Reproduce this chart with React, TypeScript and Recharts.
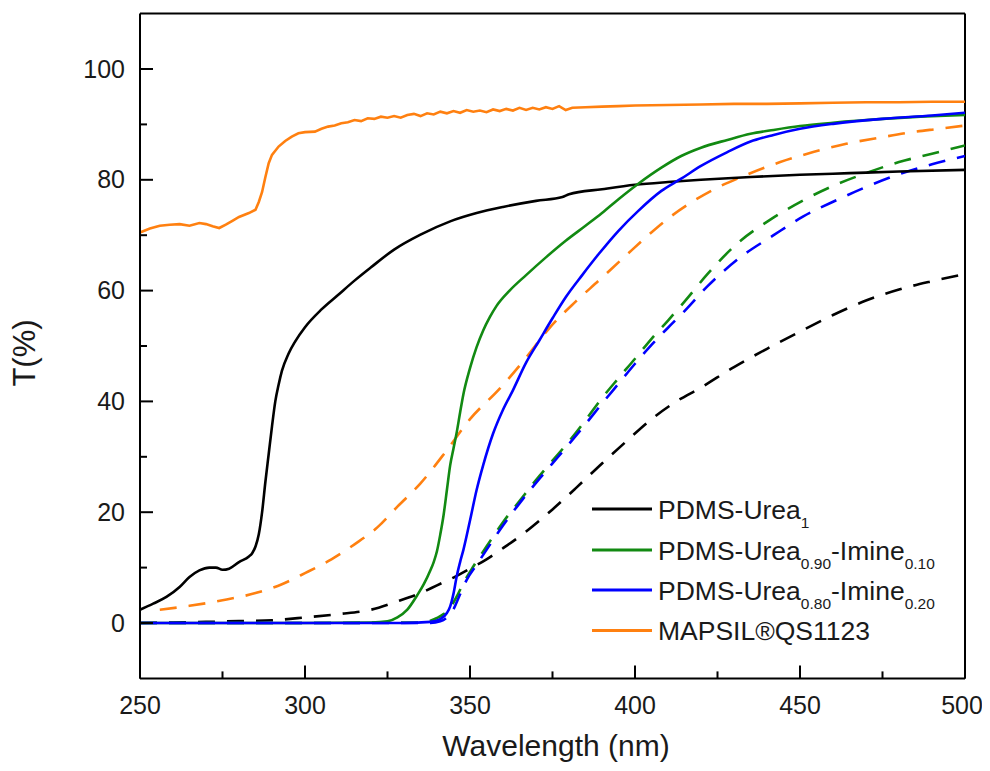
import React from 'react';
import { LineChart, Line, XAxis, YAxis, ReferenceLine } from 'recharts';

const FONT = '"Liberation Sans", Arial, Helvetica, sans-serif';
const TXT = '#1a1a1a';

// ---- axes ----
const xTicks = [250, 275, 300, 325, 350, 375, 400, 425, 450, 475, 500];
const xMajor = [250, 300, 350, 400, 450, 500];
const yTicks = [0, 10, 20, 30, 40, 50, 60, 70, 80, 90, 100];
const yMajor = [0, 20, 40, 60, 80, 100];
const xDomain = [250, 500];
const yDomain = [-10, 110];

// ---- PDMS-Urea1 (solid) ----
const wlUrea1 = [250, 254, 258, 262, 265, 268, 271, 273, 275, 277, 280, 283, 284, 285, 286, 287, 288, 289, 290, 291, 292, 293, 295, 297, 300, 305, 310, 315, 320, 327, 335, 344, 352, 360, 370, 378, 380, 390, 400, 410, 420, 435, 450, 465, 480, 500];
const tUrea1 = [2.4, 3.5, 4.7, 6.5, 8.3, 9.5, 10.0, 10.0, 9.6, 9.8, 11.0, 12.0, 12.6, 13.8, 16.0, 20.0, 25.5, 30.5, 35.5, 40.0, 43.0, 45.5, 48.6, 50.8, 53.4, 56.6, 59.2, 61.8, 64.2, 67.4, 70.1, 72.5, 74.0, 75.1, 76.2, 76.9, 77.4, 78.3, 79.1, 79.6, 80.0, 80.5, 80.9, 81.2, 81.5, 81.8];

// ---- PDMS-Urea1 (dashed) ----
const wlUrea1D = [250, 260, 270, 280, 290, 300, 310, 320, 328, 335, 340, 345, 350, 355, 360, 367, 375, 382, 390, 397, 405, 412, 420, 430, 440, 450, 460, 470, 480, 490, 500];
const tUrea1D = [0, 0.1, 0.2, 0.35, 0.5, 1.0, 1.6, 2.4, 3.9, 5.4, 6.8, 8.2, 9.8, 11.5, 13.5, 16.5, 20.5, 24.3, 28.8, 32.6, 36.8, 39.8, 42.5, 46.2, 49.5, 52.6, 55.6, 58.2, 60.2, 61.7, 63.0];

// ---- PDMS-Urea0.90-Imine0.10 (solid) ----
const wlU90 = [250, 300, 320, 325, 328, 331, 334, 336, 338, 339, 340, 341, 342, 343, 344, 345, 346, 347, 348, 350, 352, 354, 356, 358, 362, 367, 373, 379, 385, 390, 395, 401, 408, 414, 420, 428, 435, 442, 450, 460, 475, 490, 500];
const tU90 = [0, 0, 0.1, 0.3, 1.0, 2.4, 5.0, 7.0, 9.5, 11.0, 13.0, 16.0, 19.5, 24.0, 28.5, 31.5, 34.5, 38.0, 41.3, 46.0, 49.8, 52.8, 55.2, 57.2, 60.0, 62.8, 66.0, 69.0, 71.7, 74.0, 76.5, 79.3, 82.2, 84.3, 85.8, 87.2, 88.3, 89.0, 89.7, 90.3, 91.0, 91.5, 91.7];

// ---- PDMS-Urea0.90-Imine0.10 (dashed) ----
const wlU90D = [250, 300, 335, 338, 340, 342, 344, 346, 348, 351, 355, 360, 365, 370, 375, 380, 385, 390, 395, 400, 405, 410, 415, 422, 431, 441, 451, 460, 470, 480, 490, 500];
const tU90D = [0, 0, 0.1, 0.4, 0.9, 1.6, 2.8, 4.8, 7.2, 10.2, 13.8, 18.2, 22.0, 25.8, 29.3, 32.8, 36.6, 40.6, 44.2, 47.7, 51.3, 54.6, 58.0, 63.0, 68.5, 72.8, 76.3, 78.9, 81.2, 83.2, 84.7, 86.2];

// ---- PDMS-Urea0.80-Imine0.20 (solid) ----
const wlU80 = [250, 300, 330, 338, 341, 343, 344, 345, 346, 347, 348, 350, 352, 354, 357, 360, 363, 367, 371, 375, 379, 384, 389, 395, 401, 408, 414, 420, 428, 435, 442, 450, 460, 475, 490, 500];
const tU80 = [0, 0, 0, 0.2, 0.7, 1.8, 3.0, 5.3, 8.5, 11.0, 13.2, 18.5, 24.0, 28.5, 34.2, 38.5, 42.0, 47.0, 51.0, 55.0, 58.8, 62.8, 66.6, 70.8, 74.4, 78.0, 80.2, 82.5, 85.0, 86.9, 88.1, 89.2, 90.1, 91.0, 91.6, 92.1];

// ---- PDMS-Urea0.80-Imine0.20 (dashed) ----
const wlU80D = [250, 300, 338, 341, 343, 345, 347, 349, 352, 355, 360, 365, 370, 375, 380, 385, 390, 395, 400, 405, 410, 415, 422, 431, 442, 451, 461, 470, 480, 490, 500];
const tU80D = [0, 0, 0, 0.3, 1.0, 2.5, 5.2, 7.8, 10.5, 13.2, 17.6, 21.6, 25.3, 28.8, 32.3, 35.9, 39.6, 43.2, 46.8, 50.2, 53.3, 56.3, 60.8, 65.6, 70.0, 73.4, 76.3, 78.7, 81.0, 82.8, 84.3];

// ---- MAPSIL QS1123 (solid) ----
const wlMap = [250, 253, 256, 259, 262, 265, 268, 270, 272, 274, 276, 278, 280, 283, 285, 286, 287, 288, 289, 290, 292, 294, 296, 298, 300, 303, 305, 307, 309, 311, 313, 315, 317, 319, 321, 323, 325, 327, 329, 331, 333, 335, 337, 339, 341, 343, 345, 347, 349, 351, 353, 355, 357, 359, 361, 363, 365, 367, 369, 371, 373, 375, 377, 379, 381, 385, 390, 395, 400, 410, 420, 430, 440, 450, 460, 470, 480, 490, 500];
const tMap = [70.5, 71.2, 71.7, 71.9, 72.0, 71.7, 72.2, 72.0, 71.6, 71.3, 71.9, 72.6, 73.3, 74.0, 74.6, 76.0, 77.8, 80.5, 83.0, 84.5, 86.0, 87.0, 87.8, 88.4, 88.6, 88.7, 89.2, 89.6, 89.8, 90.2, 90.4, 90.8, 90.6, 91.1, 91.0, 91.4, 91.2, 91.5, 91.2, 91.7, 91.9, 91.5, 92.0, 91.8, 92.3, 92.0, 92.4, 92.1, 92.6, 92.3, 92.5, 92.2, 92.7, 92.4, 92.8, 92.5, 93.0, 92.6, 93.0, 92.7, 93.1, 92.8, 93.3, 92.6, 93.0, 93.1, 93.2, 93.3, 93.4, 93.5, 93.6, 93.7, 93.7, 93.8, 93.9, 94.0, 94.0, 94.1, 94.1];

// ---- MAPSIL QS1123 (dashed) ----
const wlMapD = [256, 265, 275, 285, 293, 300, 308, 315, 322, 328, 335, 343, 350, 359, 367, 374, 382, 389, 397, 404, 410, 417, 425, 433, 444, 454, 464, 474, 484, 492, 500];
const tMapD = [2.4, 3.1, 4.1, 5.4, 7.0, 9.0, 11.5, 14.2, 17.3, 21.0, 25.2, 31.2, 36.8, 42.3, 47.9, 53.2, 58.0, 61.8, 66.2, 70.0, 73.0, 75.9, 78.6, 80.7, 83.2, 85.0, 86.5, 87.6, 88.6, 89.2, 89.8];

const pts = (xs: number[], ys: number[]) => xs.map((x, i) => ({ x, y: ys[i] }));

const BLACK = '#000000';
const GREEN = '#128a12';
const BLUE = '#0000ff';
const ORANGE = '#ff8010';
const DASH = '17 12';

const series = [
  { id: 'u1d', data: pts(wlUrea1D, tUrea1D), color: BLACK, dash: DASH },
  { id: 'mapd', data: pts(wlMapD, tMapD), color: ORANGE, dash: DASH },
  { id: 'u90d', data: pts(wlU90D, tU90D), color: GREEN, dash: DASH },
  { id: 'u80d', data: pts(wlU80D, tU80D), color: BLUE, dash: DASH },
  { id: 'u1', data: pts(wlUrea1, tUrea1), color: BLACK, dash: undefined },
  { id: 'u90', data: pts(wlU90, tU90), color: GREEN, dash: undefined },
  { id: 'u80', data: pts(wlU80, tU80), color: BLUE, dash: undefined },
  { id: 'map', data: pts(wlMap, tMap), color: ORANGE, dash: undefined, linear: true },
];

const legendItems = [
  { color: BLACK, parts: [['PDMS-Urea', false], ['1', true]] },
  { color: GREEN, parts: [['PDMS-Urea', false], ['0.90', true], ['-Imine', false], ['0.10', true]] },
  { color: BLUE, parts: [['PDMS-Urea', false], ['0.80', true], ['-Imine', false], ['0.20', true]] },
  { color: ORANGE, parts: [['MAPSIL®QS1123', false]] },
];

// whole-page coordinates (the inner box is shifted onto the page origin)
const W = 990;
const H = 771;
const PLOT_LEFT = 140;
const PLOT_TOP = 13.6;
const PLOT_RIGHT = 965;
const PLOT_BOTTOM = 678.4;

const XTick = (props: any) => {
  const { x, y, payload } = props;
  const v = payload.value;
  const major = xMajor.includes(v);
  const dx = v === xDomain[1] ? -3 : 0;
  return (
    <g>
      <line x1={x} x2={x} y1={y} y2={y - (major ? 13 : 7)} stroke="#000" strokeWidth={2} />
      {major && (
        <text x={x + dx} y={y + 35.6} textAnchor="middle" fontSize={25} fontFamily={FONT} fill={TXT}>
          {v}
        </text>
      )}
    </g>
  );
};

const YTick = (props: any) => {
  const { x, y, payload } = props;
  const v = payload.value;
  const major = yMajor.includes(v);
  return (
    <g>
      <line x1={x} x2={x + (major ? 13 : 7)} y1={y} y2={y} stroke="#000" strokeWidth={2} />
      {major && (
        <text x={x - 15} y={y + 8.5} textAnchor="end" fontSize={25} fontFamily={FONT} fill={TXT}>
          {v}
        </text>
      )}
    </g>
  );
};

export default function App() {
  const legX0 = 592;
  const legX1 = 652;
  const legTextX = 658;
  const legRowY = [509, 550, 590, 630.5];
  return (
    <div style={{ position: 'relative', width: 974, height: H, marginTop: -8, marginBottom: -8 }}>
      <div style={{ position: 'absolute', left: -8, top: 0, width: W, height: H }}>
        <LineChart
          width={W}
          height={H}
          margin={{ top: PLOT_TOP, right: W - PLOT_RIGHT, left: 0, bottom: 0 }}
        >
          <XAxis
            dataKey="x"
            type="number"
            domain={xDomain}
            ticks={xTicks}
            interval={0}
            allowDataOverflow
            height={H - PLOT_BOTTOM}
            tickSize={0}
            tickMargin={0}
            tickLine={false}
            axisLine={{ stroke: '#000', strokeWidth: 2 }}
            tick={<XTick />}
          />
          <YAxis
            dataKey="y"
            type="number"
            domain={yDomain}
            ticks={yTicks}
            interval={0}
            allowDataOverflow
            width={PLOT_LEFT}
            tickSize={0}
            tickMargin={0}
            tickLine={false}
            axisLine={{ stroke: '#000', strokeWidth: 2 }}
            tick={<YTick />}
          />
          <ReferenceLine y={110} stroke="#000" strokeWidth={2} />
          <ReferenceLine x={500} stroke="#000" strokeWidth={2} />
          {series.map((s) => (
            <Line
              key={s.id}
              data={s.data}
              dataKey="y"
              type={s.linear ? 'linear' : 'monotone'}
              stroke={s.color}
              strokeWidth={2.6}
              strokeDasharray={s.dash}
              dot={false}
              activeDot={false}
              isAnimationActive={false}
            />
          ))}
        </LineChart>
        <svg
          width={W}
          height={H}
          style={{ position: 'absolute', left: 0, top: 0, pointerEvents: 'none' }}
        >
          <text
            x={(PLOT_LEFT + PLOT_RIGHT) / 2 + 3.5}
            y={755.5}
            textAnchor="middle"
            fontSize={30}
            fontFamily={FONT}
            fill={TXT}
          >
            Wavelength (nm)
          </text>
          <text
            x={35}
            y={353}
            transform="rotate(-90 35 353)"
            textAnchor="middle"
            fontSize={31}
            fontFamily={FONT}
            fill={TXT}
          >
            T(%)
          </text>
          {legendItems.map((it, i) => (
            <g key={i}>
              <line x1={legX0} x2={legX1} y1={legRowY[i]} y2={legRowY[i]} stroke={it.color} strokeWidth={3} />
              <text x={legTextX} y={legRowY[i] + 9.5} fontSize={26.5} fontFamily={FONT} fill={TXT}>
                {it.parts.map((p, j) => {
                  const sub = p[1] as boolean;
                  const prevSub = j > 0 && (it.parts[j - 1][1] as boolean);
                  const dy = sub ? 9.5 : prevSub ? -9.5 : 0;
                  return (
                    <tspan key={j} fontSize={sub ? 15.5 : 26.5} dy={dy}>
                      {p[0] as string}
                    </tspan>
                  );
                })}
              </text>
            </g>
          ))}
        </svg>
      </div>
    </div>
  );
}
